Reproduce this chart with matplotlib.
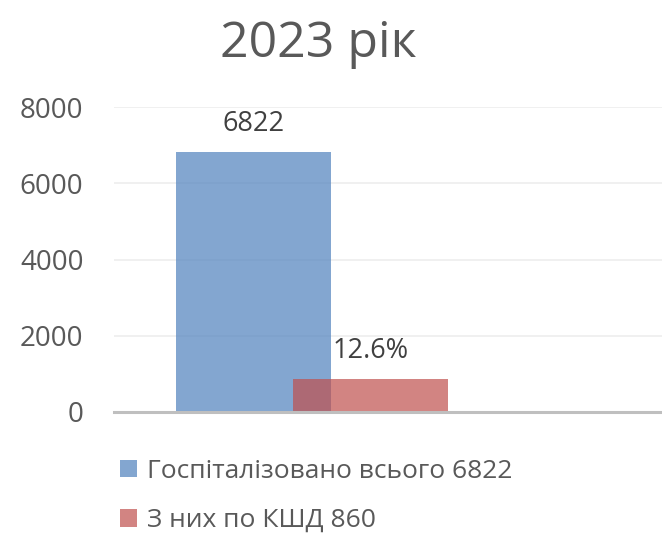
import matplotlib.pyplot as plt
from matplotlib.patches import Patch

plt.rcParams['font.family'] = ['Open Sans', 'DejaVu Sans']

# Data
title = "2023 рік"
series_names = ["Госпіталізовано всього 6822", "З них по КШД 860"]
values = [6822, 860]
bar_labels = ["6822", "12.6%"]
y_ticks = [0, 2000, 4000, 6000, 8000]

colors = ["#4F81BD", "#C0504D"]
alpha = 0.7

fig = plt.figure(figsize=(6.62, 5.35), dpi=100)
ax = fig.add_axes([114 / 662, 1 - 412 / 535, 1 - 114 / 662, (412 - 107) / 535])

# overlapping bars inside one category
width = 0.283
centers = [0.2546, 0.468]
for c, v, col, lab in zip(centers, values, colors, bar_labels):
    ax.bar(c, v, width=width, color=col, alpha=alpha, zorder=3)
    ax.annotate(lab, (c, v), xytext=(0, 10), textcoords="offset points",
                ha="center", va="bottom", fontsize=19.5, color="#404040")

ax.set_xlim(0, 1)
ax.set_ylim(0, 8000)
ax.set_yticks(y_ticks)
ax.set_xticks([])
ax.tick_params(axis="y", length=0, labelsize=20, labelcolor="#595959", pad=22)
ax.grid(axis="y", color="#EEEEEE", linewidth=1.2, zorder=0)
for s in ["top", "right", "left"]:
    ax.spines[s].set_visible(False)
ax.spines["bottom"].set_color("#BFBFBF")
ax.spines["bottom"].set_linewidth(2.2)
ax.spines["bottom"].set_zorder(4)

fig.text(318 / 662, 1 - 44 / 535, title, ha="center", va="center",
         fontsize=36, color="#595959")

handles = [Patch(facecolor=col, alpha=alpha) for col in colors]
fig.legend(handles, series_names, loc="upper left",
           bbox_to_anchor=(96 / 662, 1 - 435 / 535), frameon=False,
           fontsize=19, labelcolor="#595959", handlelength=0.65, handleheight=0.65,
           handletextpad=0.38, labelspacing=0.92)

fig.savefig("out.png", dpi=100)
